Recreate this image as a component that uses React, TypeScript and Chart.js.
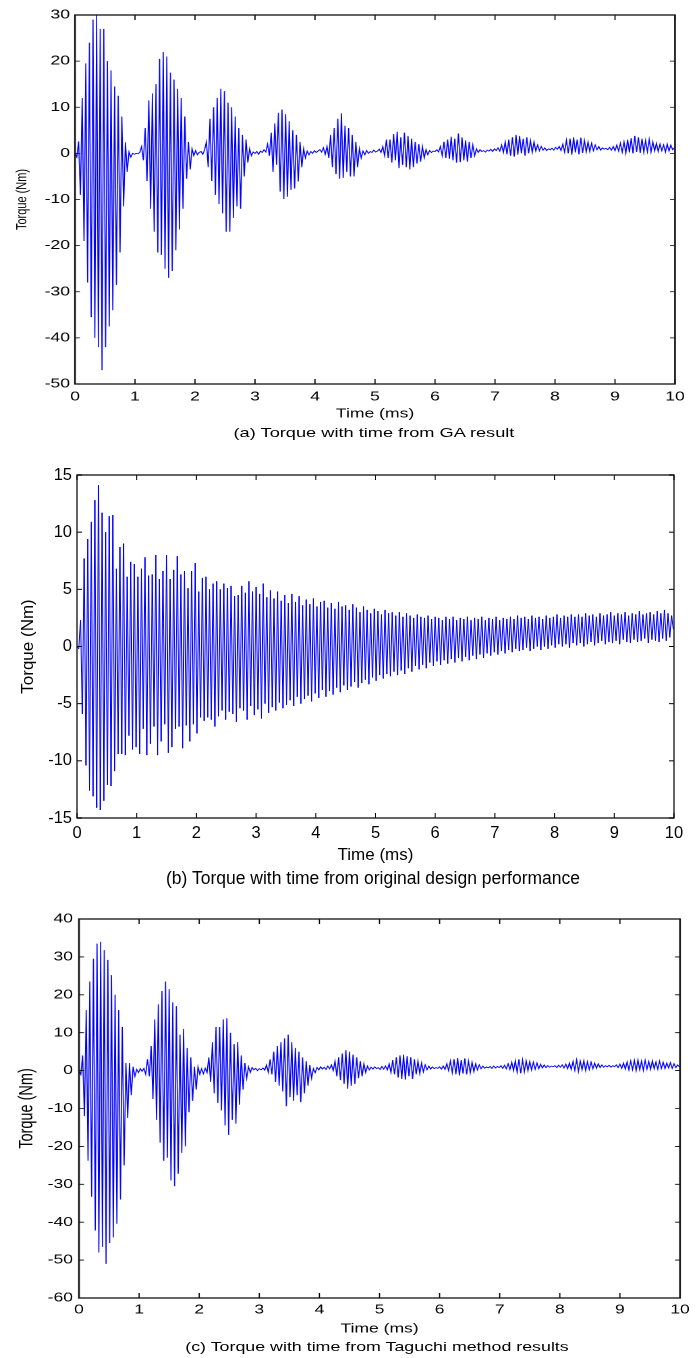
import React, { useEffect, useRef } from "react";
import { Chart, registerables } from "chart.js";

Chart.register(...registerables);

// ---------------- DATA ----------------
const SAMPLE_STEP_MS = 0.03; // sample spacing of the recorded traces (ms)
const timeTicks = [0, 1, 2, 3, 4, 5, 6, 7, 8, 9, 10];

const yTicksGA = [-50, -40, -30, -20, -10, 0, 10, 20, 30];
const yTicksOriginal = [-15, -10, -5, 0, 5, 10, 15];
const yTicksTaguchi = [-60, -50, -40, -30, -20, -10, 0, 10, 20, 30, 40];

// (a) torque from GA result, one row = 0.3 ms
const torqueGA = [
  0, -0.8, 2.6, -9, 12, -19, 19.5, -28, 24, -35.5,
  29, -40, 30, -42, 27, -47, 27, -42, 20, -37.5,
  18, -34, 14.5, -28.5, 12.5, -21.5, 8, -11.5, 2.4, -4,
  0.3, -0.8, 0, -0.2, 0, -0.1, 0.2, 1.5, -1.5, 5.5,
  -6, 11.5, -12, 13, -17, 15, -21.5, 20.5, -22, 22,
  -25, 21, -27, 17.5, -25.5, 16, -21, 14, -16.5, 12,
  -12, 8, -5.5, 2.5, -3.5, 1, -0.5, 0.6, -0.3, 0.2,
  0.4, -0.2, 0.8, 2.5, -3, 7.5, -6, 10, -9, 12,
  -11, 14, -13, 13.5, -17, 11, -17, 10, -14, 8,
  -11.5, 5.5, -12, 4, -5, 3, -2, 1, -0.5, 0.3,
  0, 0.4, -0.2, 0.5, 0.2, 0.8, 0.3, 2, -0.5, 4.5,
  -4, 6.5, -2.5, 8.8, -8.3, 9.5, -9.9, 8.5, -9.4, 7,
  -7.9, 5, -7.6, 4, -6.1, 2.5, -3, 1, -1, 0.5,
  -0.3, 0.4, 0, 0.6, 0.2, 0.5, 0.8, 0.3, 1.2, -0.2,
  1.5, -1, 4, -3, 5.5, -4.5, 7.5, -5.5, 8.7, -5.3,
  6, -4, 5.5, -5, 4, -5, 2.5, -3, 1, -1,
  0.5, -0.3, 0.6, 0, 0.4, 0.2, 0.7, 0.3, 0.5, 0.9,
  0.2, 1.5, -0.5, 3, -1, 3, -2, 4.2, -1.5, 4.7,
  -3.2, 3.5, -2.5, 4.5, -3, 3.8, -3.5, 3.2, -3, 2.5,
  -2.2, 2, -1.8, 1.5, -1, 0.8, -0.3, 0.6, 0.2, 0.5,
  0.4, 0.8, 0.3, 1.5, -0.5, 2.5, -1, 3, -1.2, 3.6,
  -1.5, 3.2, -2, 4.3, -1.9, 3.5, -1.5, 2.8, -1.8, 2.5,
  -1, 1.8, -0.5, 1, 0.2, 0.8, 0.4, 0.6, 0.3, 0.7,
  0.5, 0.9, 0.4, 1, 0.6, 1.2, 0.5, 1.8, 0.2, 2.5,
  -0.2, 3, -0.5, 3.5, -0.7, 4, -0.3, 3.8, 0, 3.2,
  -0.5, 3.5, 0, 2.8, 0.2, 2.5, 0.5, 1.8, 0.6, 1.5,
  0.7, 1.2, 0.6, 1, 0.8, 1.1, 0.7, 1.3, 0.9, 1.5,
  0.6, 2, 0.3, 2.8, 0, 3.2, -0.3, 3.5, 0.2, 3,
  -0.2, 3.4, 0.1, 2.8, 0.3, 2.5, 0.4, 2.2, 0.6, 1.8,
  0.8, 1.5, 0.7, 1.2, 0.9, 1.1, 0.8, 1.3, 0.7, 1.5,
  0.6, 1.8, 0.5, 2.2, 0.3, 2.5, 0, 3, 0.2, 3.3,
  0, 3.8, 0.3, 3.5, 0.1, 3.2, 0.2, 2.8, 0.4, 3,
  0.3, 2.5, 0.5, 2.2, 0.4, 2, 0.6, 1.8, 0.3, 2,
  0.5, 1.8, 0.8, 1.2,
];

// (b) torque from original design, one row = 0.3 ms
const torqueOriginal = [
  0, -0.2, 2.3, -5.9, 7.7, -10.4, 9.4, -12.6, 10.9, -13.1,
  12.8, -14.1, 14.1, -14.3, 11.7, -13.5, 10, -12.1, 11.4, -12.2,
  11.5, -10.9, 6.8, -9.4, 8.7, -9.4, 9, -9.5, 6.1, -7.8,
  7.4, -9, 7.2, -8.8, 6.1, -9.4, 6.8, -7.2, 7.8, -9.5,
  6.2, -8.5, 6.3, -7, 8, -9.5, 5.9, -8.3, 6.6, -6.8,
  8, -9.3, 5.9, -8.8, 6.7, -7.2, 7.9, -7, 6.3, -8.9,
  6.6, -6.9, 5.1, -8.3, 6.6, -6.8, 7.3, -7.6, 4.8, -6.2,
  6, -6.5, 6.1, -6.2, 5, -6.4, 5.5, -7, 5.7, -6.1,
  5, -5.6, 5.5, -6.4, 5.1, -5.7, 5.3, -5.9, 4.4, -6.6,
  4.5, -5.4, 5.3, -5.6, 4.7, -6.4, 5.7, -5.2, 4.8, -6,
  5.2, -5.5, 4.6, -6.3, 5.5, -5, 4.3, -5.8, 4.9, -5.3,
  4.2, -5.6, 4.8, -4.9, 4, -5.4, 4.5, -5.1, 3.8, -4.7,
  4.6, -5.2, 3.9, -4.4, 4.4, -5, 3.6, -4.6, 4.1, -4.3,
  3.7, -4.8, 4.2, -4.1, 3.5, -4.5, 3.9, -3.8, 4, -4.4,
  3.4, -3.9, 3.8, -4.2, 3.3, -3.6, 3.9, -4, 3.5, -3.4,
  3.6, -3.8, 3.2, -3.5, 3.7, -3.1, 3.4, -3.6, 3, -3.2,
  3.5, -2.9, 3.2, -3.3, 2.9, -2.7, 3.3, -3, 3.1, -2.5,
  2.8, -2.8, 3.2, -2.4, 2.9, -2.6, 3, -2.2, 2.7, -2.5,
  3, -2.1, 2.6, -2.4, 2.9, -1.9, 2.7, -2.2, 2.5, -1.7,
  2.8, -2, 2.6, -1.6, 2.5, -1.9, 2.7, -1.4, 2.4, -1.7,
  2.6, -1.3, 2.5, -1.6, 2.3, -1.2, 2.6, -1.5, 2.4, -1.1,
  2.6, -1.4, 2.3, -1, 2.5, -1.3, 2.4, -0.9, 2.6, -1.2,
  2.3, -0.8, 2.5, -1.1, 2.4, -0.7, 2.6, -1, 2.3, -0.6,
  2.5, -0.8, 2.4, -0.5, 2.6, -0.7, 2.3, -0.4, 2.5, -0.6,
  2.4, -0.3, 2.6, -0.5, 2.4, -0.2, 2.7, -0.4, 2.5, -0.3,
  2.6, -0.1, 2.4, -0.4, 2.7, -0.2, 2.5, 0, 2.6, -0.3,
  2.4, 0, 2.7, -0.2, 2.5, 0.1, 2.6, -0.1, 2.8, 0.2,
  2.5, 0, 2.7, 0.2, 2.6, -0.1, 2.8, 0.3, 2.6, 0.1,
  2.8, 0.3, 2.6, 0, 2.9, 0.2, 2.7, 0.4, 2.8, 0.1,
  2.6, 0.3, 2.9, 0.5, 2.7, 0.2, 2.8, 0.4, 3, 0.3,
  2.7, 0.5, 2.9, 0.2, 2.8, 0.6, 3, 0.4, 2.7, 0.3,
  2.9, 0.6, 2.8, 0.4, 3.1, 0.5, 2.8, 0.7, 2.9, 0.3,
  3, 0.6, 2.8, 0.5, 3.1, 0.4, 2.9, 0.7, 3.2, 0.5,
  2.9, 0.8, 2.7, 1.5,
];

// (c) torque from Taguchi method, one row = 0.3 ms
const torqueTaguchi = [
  0, -1, 4, -12, 16, -23.8, 23.5, -33.3, 29.5, -42.2,
  33.5, -48, 34, -46.5, 31.8, -51, 29.2, -45.5, 25.2, -44,
  20, -40.4, 16, -34, 11.5, -25, 2, -12.5, 2, -6.5,
  1, -1.5, 0.3, -0.5, 0.5, -0.2, 0.6, -1, 3, -1.5,
  6.5, -7.5, 13.5, -13, 17.5, -19, 21, -23.8, 23.5, -23,
  21.5, -29, 18, -30.5, 17, -27.2, 9.5, -21.7, 11, -20,
  6, -11, 3.5, -8, 1, -5, 1, -1, 0.5, -0.8,
  0.6, -0.5, 3.5, -3, 7.5, -6, 11.5, -8.5, 11.5, -10.5,
  13.5, -14.5, 13.8, -17, 10, -13, 7, -14, 7.5, -9,
  4, -5, 2, -2, 1, -0.5, 0.8, 0.2, 0.6, 0,
  0.5, 0.2, 0.7, 0.1, 1.5, -0.5, 3, -1, 5, -3,
  6.5, -4, 7.5, -5.5, 8.5, -9.4, 9.5, -7, 7.5, -8,
  6, -6.5, 5, -8.3, 3.5, -6, 2.5, -4, 1.5, -2,
  0.5, -0.5, 0.8, 0.2, 1, 0.4, 0.9, 0.3, 1.2, 0.5,
  1.5, 0, 2.5, -1.5, 3.5, -2.5, 4.5, -3.5, 5.4, -4.8,
  5, -4, 4.2, -3.5, 3.5, -2, 2.5, -1.5, 1.8, -0.5,
  1.2, 0.2, 0.9, 0.4, 1, 0.5, 0.8, 0.3, 1.1, 0.4,
  1.2, 0.2, 1.8, -0.5, 2.8, -1, 3.5, -1.8, 4, -2.2,
  4.2, -2.4, 3.8, -1.5, 3.5, -2.2, 3, -1, 2.5, -0.8,
  2, -0.3, 1.5, 0.2, 1.2, 0.4, 1, 0.5, 0.8, 0.6,
  1, 0.4, 1.2, 0.3, 1.8, 0, 2.5, -0.5, 3, -1,
  3.3, -1.3, 2.8, -0.8, 3.2, -1, 2.5, -0.6, 2.2, -0.3,
  1.8, 0.2, 1.5, 0.5, 1.2, 0.6, 1, 0.7, 1.1, 0.6,
  1.2, 0.7, 1.1, 0.8, 1.3, 0.6, 1.4, 0.5, 1.8, 0.3,
  2.2, 0, 2.6, -0.4, 3, -0.7, 2.8, -0.3, 2.6, 0,
  2.4, 0.2, 2.2, 0.4, 2, 0.5, 1.7, 0.7, 1.5, 0.8,
  1.3, 0.9, 1.2, 1, 1.3, 0.8, 1.4, 0.9, 1.5, 0.7,
  1.7, 0.5, 2, 0.3, 2.4, 0.1, 2.8, -0.2, 2.5, 0.2,
  2.6, 0, 2.3, 0.3, 2.2, 0.5, 2, 0.6, 1.8, 0.8,
  1.5, 0.9, 1.3, 1, 1.4, 0.9, 1.3, 1, 1.5, 0.8,
  1.7, 0.6, 2, 0.4, 2.3, 0.2, 2.5, 0.3, 2.7, 0,
  2.8, 0.2, 2.5, 0.1, 2.7, 0.4, 2.4, 0.3, 2.6, 0.5,
  2.3, 0.4, 2.5, 0.6, 2.2, 0.5, 2, 0.7, 2.1, 0.6,
  1.8, 0.8, 1.5, 1,
];

const xTitle = "Time (ms)";
const yTitle = "Torque (Nm)";
const captionGA = "(a) Torque with time from GA result";
const captionOriginal = "(b) Torque with time from original design performance";
const captionTaguchi = "(c) Torque with time from Taguchi method results";

// ---------------- LAYOUT ----------------
const PAGE_W = 699;
const FONT = "'Liberation Sans', Arial, Helvetica, sans-serif";

const boxPlugin = {
  id: "matlabBox",
  afterDatasetsDraw(chart: any, _args: any, opts: any) {
    const { ctx, chartArea, scales } = chart;
    const { left, right, top, bottom } = chartArea;
    const s = opts.stretch || 1;
    const tl = 5;
    ctx.save();
    ctx.strokeStyle = "#000";
    ctx.lineWidth = 1 / Math.sqrt(s);
    ctx.beginPath();
    scales.x.ticks.forEach((t: any) => {
      const px = scales.x.getPixelForValue(t.value);
      ctx.moveTo(px, bottom);
      ctx.lineTo(px, bottom - tl);
      ctx.moveTo(px, top);
      ctx.lineTo(px, top + tl);
    });
    scales.y.ticks.forEach((t: any) => {
      const py = scales.y.getPixelForValue(t.value);
      ctx.moveTo(left, py);
      ctx.lineTo(left + tl / s, py);
      ctx.moveTo(right, py);
      ctx.lineTo(right - tl / s, py);
    });
    ctx.stroke();
    ctx.lineWidth = 1.3;
    ctx.strokeStyle = "#111";
    ctx.strokeRect(left, top, right - left, bottom - top);
    ctx.restore();
  },
};

type PanelProps = {
  values: number[];
  yTicks: number[];
  pageTop: number;
  pageHeight: number;
  plotLeft: number;
  plotRight: number;
  plotTop: number;
  plotBottom: number;
  stretch: number;
  lineWidth: number;
  tickFont: number;
  xTitleFont: number;
  yTitleFont: number;
  xTickCenterY: number;
  xTitleCenterY: number;
  yTitleCenterX: number;
  yTickGap: number;
};

function TorquePanel(p: PanelProps) {
  const ref = useRef<HTMLCanvasElement | null>(null);
  const logicalW = Math.round(PAGE_W / p.stretch);

  useEffect(() => {
    const canvas = ref.current;
    if (!canvas) return;
    const s = PAGE_W / logicalW;
    const left = p.plotLeft / s;
    const right = p.plotRight / s;
    const top = p.plotTop - p.pageTop;
    const bottom = p.plotBottom - p.pageTop;
    const xAxisH = p.pageHeight - bottom;
    const tickLh = p.tickFont * 1.2;
    const xTitleLh = p.xTitleFont * 1.2;
    const yTitleLh = p.yTitleFont * 1.2;
    const xTickPad = p.xTickCenterY - p.plotBottom - tickLh / 2;
    const xTitlePadBottom = p.pageTop + p.pageHeight - p.xTitleCenterY - xTitleLh / 2;
    const yTitlePadTop = p.yTitleCenterX / s - yTitleLh / 2;

    const points = p.values.map((v, i) => ({ x: Number((i * SAMPLE_STEP_MS).toFixed(2)), y: v }));

    const chart = new Chart(canvas, {
      type: "line",
      data: {
        datasets: [
          {
            data: points,
            borderColor: "#0000ff",
            borderWidth: p.lineWidth,
            pointRadius: 0,
            tension: 0,
            fill: false,
          },
        ],
      },
      options: {
        responsive: false,
        animation: false,
        devicePixelRatio: p.stretch > 1 ? 2 : 1,
        events: [],
        parsing: false,
        normalized: true,
        layout: { padding: { left: 0, right: logicalW - right, top, bottom: 0 } },
        plugins: {
          legend: { display: false },
          tooltip: { enabled: false },
          matlabBox: { stretch: s },
        } as any,
        scales: {
          x: {
            type: "linear",
            min: timeTicks[0],
            max: timeTicks[timeTicks.length - 1],
            afterBuildTicks: (sc: any) => {
              sc.ticks = timeTicks.map((v) => ({ value: v }));
            },
            afterFit: (sc: any) => {
              sc.height = xAxisH;
            },
            grid: { display: false, drawTicks: false },
            border: { display: false },
            ticks: {
              autoSkip: false,
              maxRotation: 0,
              padding: xTickPad,
              color: "#000",
              font: { family: FONT, size: p.tickFont },
            },
            title: {
              display: true,
              text: xTitle,
              color: "#000",
              font: { family: FONT, size: p.xTitleFont },
              padding: { top: 0, bottom: xTitlePadBottom },
            },
          },
          y: {
            type: "linear",
            min: p.yTicks[0],
            max: p.yTicks[p.yTicks.length - 1],
            afterBuildTicks: (sc: any) => {
              sc.ticks = p.yTicks.map((v) => ({ value: v }));
            },
            afterFit: (sc: any) => {
              sc.width = left;
            },
            grid: { display: false, drawTicks: false },
            border: { display: false },
            ticks: {
              autoSkip: false,
              padding: p.yTickGap / s,
              color: "#000",
              font: { family: FONT, size: p.tickFont },
            },
            title: {
              display: true,
              text: yTitle,
              color: "#000",
              font: { family: FONT, size: p.yTitleFont },
              padding: { top: yTitlePadTop, bottom: 0 },
            },
          },
        },
      } as any,
      plugins: [boxPlugin],
    });
    return () => chart.destroy();
  }, []);

  return (
    <canvas
      ref={ref}
      width={logicalW}
      height={p.pageHeight}
      style={{
        position: "absolute",
        left: 0,
        top: p.pageTop,
        width: PAGE_W + "px",
        height: p.pageHeight + "px",
      }}
    />
  );
}

function Caption(props: { text: string; cx: number; cy: number; size: number; stretch: number }) {
  return (
    <div
      style={{
        position: "absolute",
        left: props.cx - 300,
        width: 600,
        top: props.cy - 10,
        height: 20,
        lineHeight: "20px",
        textAlign: "center",
        fontFamily: FONT,
        fontSize: props.size + "px",
        color: "#000",
        whiteSpace: "nowrap",
        transform: `scaleX(${props.stretch})`,
        transformOrigin: "300px 50%",
      }}
    >
      {props.text}
    </div>
  );
}

export default function App() {
  return (
    <div style={{ position: "absolute", left: 0, top: 0, width: PAGE_W, height: 1358, background: "#fff" }}>
      <TorquePanel
        values={torqueGA}
        yTicks={yTicksGA}
        pageTop={0}
        pageHeight={426}
        plotLeft={75}
        plotRight={675}
        plotTop={15}
        plotBottom={384}
        stretch={1.35}
        lineWidth={0.8}
        tickFont={13}
        xTitleFont={13}
        yTitleFont={11}
        xTickCenterY={397}
        xTitleCenterY={414}
        yTitleCenterX={22}
        yTickGap={5}
      />
      <Caption text={captionGA} cx={374} cy={433} size={13} stretch={1.4} />
      <TorquePanel
        values={torqueOriginal}
        yTicks={yTicksOriginal}
        pageTop={455}
        pageHeight={415}
        plotLeft={77}
        plotRight={674}
        plotTop={475}
        plotBottom={818}
        stretch={1}
        lineWidth={1}
        tickFont={16.5}
        xTitleFont={17}
        yTitleFont={17}
        xTickCenterY={833}
        xTitleCenterY={855}
        yTitleCenterX={28}
        yTickGap={5}
      />
      <Caption text={captionOriginal} cx={373} cy={878} size={17.5} stretch={1} />
      <TorquePanel
        values={torqueTaguchi}
        yTicks={yTicksTaguchi}
        pageTop={900}
        pageHeight={440}
        plotLeft={79}
        plotRight={680}
        plotTop={919}
        plotBottom={1298}
        stretch={1.35}
        lineWidth={0.8}
        tickFont={13}
        xTitleFont={13}
        yTitleFont={14.5}
        xTickCenterY={1310}
        xTitleCenterY={1329}
        yTitleCenterX={27}
        yTickGap={6}
      />
      <Caption text={captionTaguchi} cx={377} cy={1347} size={13} stretch={1.37} />
    </div>
  );
}
